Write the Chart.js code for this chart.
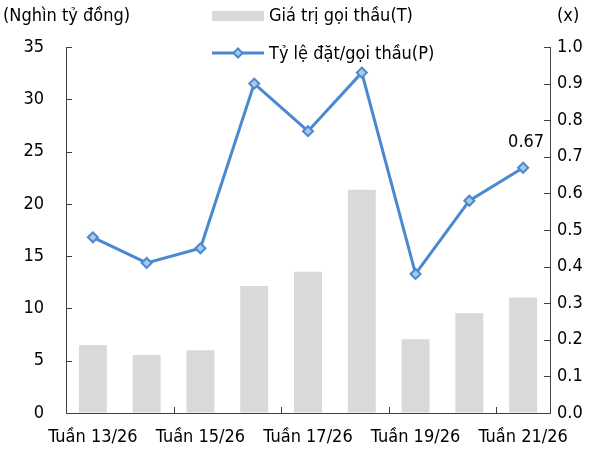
<!DOCTYPE html>
<html>
<head>
<meta charset="utf-8">
<script src="https://cdn.jsdelivr.net/npm/chart.js@4"></script>
<style>
  html, body { margin: 0; padding: 0; background: #fff; }
  #wrap { position: relative; width: 614px; height: 454px; }
  #wrap canvas { position: absolute; left: 0; top: 0; }
  .txt { position: absolute; font-family: "DejaVu Sans Condensed", "DejaVu Sans", sans-serif; font-size: 18px; color: #000; white-space: nowrap; line-height: 22px; }
  .sw { position: absolute; }
</style>
</head>
<body>
<div id="wrap">
  <canvas id="chart" width="614" height="454"></canvas>
  <div class="txt" style="left:3px; top:4px;">(Nghìn tỷ đồng)</div>
  <div class="txt" style="left:557px; top:4px;">(x)</div>
  <div class="sw" style="left:212px; top:11px; width:52px; height:10px; background:#d9d9d9;"></div>
  <div class="txt" style="left:269px; top:4px;">Giá trị gọi thầu(T)</div>
  <svg class="sw" style="left:212px; top:45px;" width="52" height="16">
    <line x1="0" y1="8" x2="52" y2="8" stroke="#4a89d0" stroke-width="3"/>
    <polygon points="26,3.5 30.5,8 26,12.5 21.5,8" fill="#a8c8ec" stroke="#4a89d0" stroke-width="2"/>
  </svg>
  <div class="txt" style="left:269px; top:42px;">Tỷ lệ đặt/gọi thầu(P)</div>
</div>
<script>
const weeks = ['Tuần 13/26', 'Tuần 14/26', 'Tuần 15/26', 'Tuần 16/26', 'Tuần 17/26',
               'Tuần 18/26', 'Tuần 19/26', 'Tuần 20/26', 'Tuần 21/26'];
const biddingValue = [6.5, 5.55, 6.0, 12.15, 13.5, 21.35, 7.05, 9.55, 11.05];   // nghìn tỷ đồng
const coverRatio = [0.48, 0.41, 0.45, 0.90, 0.77, 0.93, 0.38, 0.58, 0.67];      // lần

const FONT = '"DejaVu Sans Condensed", "DejaVu Sans", sans-serif';
const AXIS_COLOR = '#404040';
const BLUE = '#4a89d0';

// Excel-style tick marks pointing into the plot, and the value label on the last point
const insideTicks = {
    id: 'insideTicks',
    afterDraw(chart) {
        const ctx = chart.ctx;
        const area = chart.chartArea;
        const y = chart.scales.y, y1 = chart.scales.y1;
        ctx.save();
        ctx.strokeStyle = AXIS_COLOR;
        ctx.lineWidth = 1;
        ctx.beginPath();
        y.ticks.forEach(t => {
            const py = Math.round(y.getPixelForValue(t.value)) + 0.5;
            ctx.moveTo(area.left, py); ctx.lineTo(area.left + 6, py);
        });
        y1.ticks.forEach(t => {
            const py = Math.round(y1.getPixelForValue(t.value)) + 0.5;
            ctx.moveTo(area.right - 6, py); ctx.lineTo(area.right, py);
        });
        const step = (area.right - area.left) / weeks.length;
        for (let i = 2; i < weeks.length; i += 2) {
            const px = Math.round(area.left + i * step) + 0.5;
            ctx.moveTo(px, area.bottom); ctx.lineTo(px, area.bottom - 6);
        }
        ctx.stroke();

        const meta = chart.getDatasetMeta(1);
        const last = coverRatio.length - 1;
        const pt = meta.data[last];
        ctx.fillStyle = '#000';
        ctx.font = '18px ' + FONT;
        ctx.textAlign = 'center';
        ctx.textBaseline = 'middle';
        ctx.fillText(coverRatio[last].toFixed(2), pt.x + 3, pt.y - 25);
        ctx.restore();
    }
};

new Chart(document.getElementById('chart').getContext('2d'), {
    data: {
        labels: weeks,
        datasets: [{
            type: 'bar',
            label: 'Giá trị gọi thầu(T)',
            data: biddingValue,
            backgroundColor: '#d9d9d9',
            yAxisID: 'y',
            categoryPercentage: 1.0,
            barPercentage: 0.52,
            order: 2
        }, {
            type: 'line',
            label: 'Tỷ lệ đặt/gọi thầu(P)',
            data: coverRatio,
            borderColor: BLUE,
            borderWidth: 3,
            pointStyle: 'rectRot',
            pointRadius: 5,
            pointBorderWidth: 2,
            pointBackgroundColor: '#a8c8ec',
            pointBorderColor: BLUE,
            tension: 0,
            yAxisID: 'y1',
            order: 1
        }]
    },
    options: {
        responsive: false,
        animation: false,
        layout: { padding: { top: 47, bottom: 0 } },
        plugins: {
            legend: { display: false },
            tooltip: { enabled: false }
        },
        scales: {
            x: {
                offset: true,
                grid: { display: true, drawOnChartArea: false, drawTicks: false, color: 'transparent' },
                border: { display: true, color: AXIS_COLOR, width: 1 },
                ticks: {
                    autoSkip: false,
                    maxRotation: 0,
                    padding: 14,
                    color: '#000',
                    font: { family: FONT, size: 18 },
                    callback: (v, i) => (i % 2 === 0 ? weeks[i] : '')
                },
                afterFit: s => { s.height = 41; }
            },
            y: {
                position: 'left',
                min: 0, max: 35,
                grid: { drawOnChartArea: false, drawTicks: false },
                border: { display: true, color: AXIS_COLOR, width: 1 },
                ticks: { stepSize: 5, padding: 22, color: '#000', font: { family: FONT, size: 18 } },
                afterFit: s => { s.width = 66; }
            },
            y1: {
                position: 'right',
                min: 0, max: 1,
                grid: { drawOnChartArea: false, drawTicks: false },
                border: { display: true, color: AXIS_COLOR, width: 1 },
                ticks: {
                    stepSize: 0.1, padding: 7, color: '#000',
                    font: { family: FONT, size: 18 },
                    callback: v => v.toFixed(1)
                },
                afterFit: s => { s.width = 64; }
            }
        }
    },
    plugins: [insideTicks]
});
</script>
</body>
</html>
